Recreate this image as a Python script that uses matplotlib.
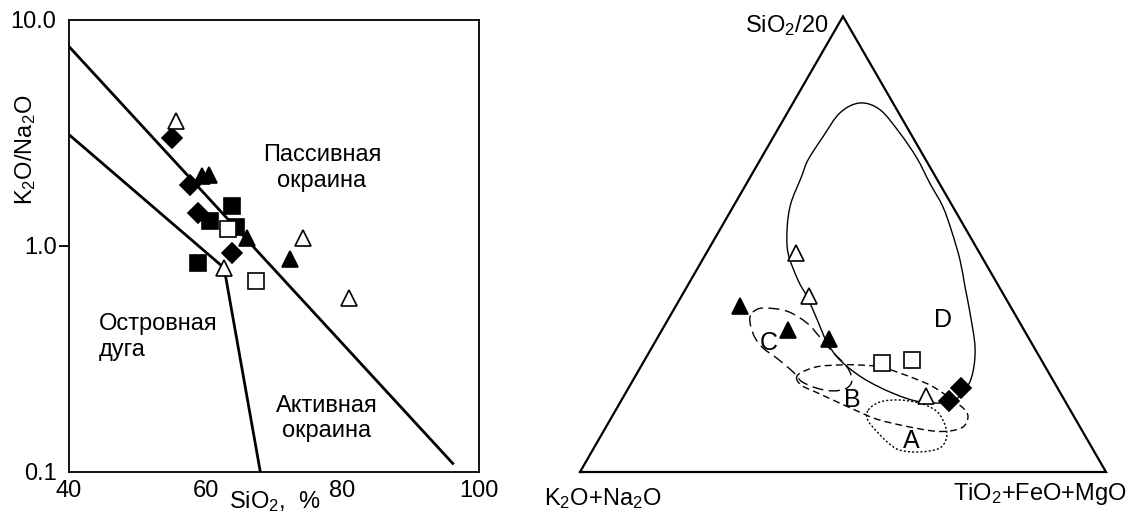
import numpy as np
import matplotlib
matplotlib.use("Agg")
import matplotlib.pyplot as plt
from matplotlib.path import Path
from matplotlib.patches import PathPatch
from matplotlib.ticker import NullLocator

plt.rcParams['font.family'] = ['Liberation Sans', 'DejaVu Sans']
plt.rcParams['mathtext.fontset'] = 'custom'
plt.rcParams['mathtext.rm'] = 'Liberation Sans'
plt.rcParams['mathtext.it'] = 'Liberation Sans:italic'
plt.rcParams['mathtext.bf'] = 'Liberation Sans:bold'

FS = 17

# ---------- SiO2 - K2O/Na2O diagram ----------
# sample groups: SiO2 (%), K2O/Na2O
diam_si = [55.0, 57.7, 58.9, 63.8]
diam_k = [3.01, 1.87, 1.40, 0.935]
sq_si = [60.6, 63.8, 64.5, 58.9]
sq_k = [1.29, 1.51, 1.21, 0.845]
tri_si = [59.4, 60.5, 66.1, 72.3]
tri_k = [2.04, 2.07, 1.08, 0.88]
osq_si = [63.3, 67.4]
osq_k = [1.19, 0.70]
otri_si = [55.7, 62.7, 74.2, 81.0]
otri_k = [3.59, 0.80, 1.09, 0.59]

# field boundaries
upper_si = [40.0, 96.3]
upper_k = [7.63, 0.108]
lower_si = [40.0, 62.7]
lower_k = [3.11, 0.80]
steep_si = [62.7, 68.0]
steep_k = [0.80, 0.10]

# ---------- ternary diagram (wt. %) ----------
# columns: K2O+Na2O, TiO2+FeO+MgO, SiO2/20
t_tri = dict(a=[51.4, 44.9, 38.1], b=[12.2, 24.0, 32.7], c=[36.4, 31.2, 29.2])
t_otri = dict(a=[34.9, 37.1, 25.9], b=[17.0, 24.2, 57.4], c=[48.1, 38.6, 16.7])
t_osq = dict(a=[30.6, 24.6], b=[45.5, 50.8], c=[23.9, 24.6])
t_diam = dict(a=[22.1, 18.4], b=[62.4, 63.2], c=[15.6, 18.4])

# field outlines: TiO2+FeO+MgO and SiO2/20 (K2O+Na2O is the remainder)
field_D_b = [12.7, 17.3, 23.6, 29.6, 34.8, 39.9, 44.5, 49.0, 52.9, 56.7, 61.4,
             63.8, 64.2, 62.7, 57.0, 50.8, 43.5, 37.1, 32.7, 28.4, 24.0, 20.4,
             15.5, 12.5, 10.6, 9.7, 9.1, 9.4, 10.0]
field_D_c = [81.0, 79.5, 74.4, 68.9, 63.4, 58.2, 52.5, 46.5, 40.6, 34.9, 27.4,
             21.7, 18.0, 15.4, 15.4, 17.3, 20.6, 24.6, 28.5, 33.4, 38.4, 42.1,
             48.1, 53.8, 59.0, 64.8, 68.5, 73.5, 78.8]
field_C_b = [15.3, 16.8, 21.7, 26.8, 30.8, 34.9, 39.2, 41.6, 41.5, 39.2, 35.8,
             32.3, 30.7, 28.6, 24.9, 21.2, 18.6, 16.6, 15.4]
field_C_c = [35.1, 36.0, 35.3, 32.7, 29.6, 26.3, 23.1, 20.2, 18.4, 17.8, 18.4,
             19.8, 21.1, 22.6, 25.0, 27.2, 29.4, 31.8, 33.8]
field_B_b = [31.0, 31.0, 33.5, 37.7, 40.9, 45.5, 50.0, 54.2, 57.8, 63.0, 66.4,
             67.8, 67.9, 65.8, 62.6, 56.7, 50.6, 45.5, 40.2, 35.9, 32.8]
field_B_c = [20.4, 21.7, 23.1, 23.5, 23.5, 23.1, 21.7, 20.2, 18.7, 15.8, 13.6,
             11.9, 9.9, 9.0, 9.0, 10.1, 11.6, 13.6, 15.8, 17.6, 18.9]
field_A_b = [48.0, 49.4, 52.9, 57.1, 60.7, 63.3, 65.7, 65.8, 62.4, 58.4, 55.4,
             52.1, 49.0]
field_A_c = [13.6, 15.4, 15.8, 15.1, 13.6, 11.4, 8.1, 5.3, 4.4, 4.8, 6.4,
             8.8, 11.4]


def to_xy(b, c):
    b = np.asarray(b) / 100.0
    c = np.asarray(c) / 100.0
    return b + c / 2.0, c * np.sqrt(3) / 2.0


def closed_curve(b, c):
    # smooth closed outline: Catmull-Rom through the points as cubic Beziers
    x, y = to_xy(b, c)
    p = np.column_stack([x, y])
    n = len(p)
    verts = [p[0]]
    codes = [Path.MOVETO]
    for i in range(n):
        p0, p1, p2, p3 = p[i - 1], p[i], p[(i + 1) % n], p[(i + 2) % n]
        verts += [p1 + (p2 - p0) / 6.0, p2 - (p3 - p1) / 6.0, p2]
        codes += [Path.CURVE4] * 3
    return Path(verts, codes)


fig = plt.figure(figsize=(11.28, 5.15), dpi=100)

# left panel
ax = fig.add_axes([69 / 1128, 43 / 515, 410 / 1128, 452 / 515])
ax.set_yscale('log')
ax.set_xlim(40, 100)
ax.set_ylim(0.1, 10)

for xs, ys in [(upper_si, upper_k), (lower_si, lower_k), (steep_si, steep_k)]:
    ax.plot(xs, ys, color='black', lw=2.0, solid_capstyle='butt', zorder=2)

mk = dict(ls='none', mec='black', mew=1.2, zorder=3, clip_on=False)
ax.plot(diam_si, diam_k, marker='D', ms=10, mfc='black', **mk)
ax.plot(sq_si, sq_k, marker='s', ms=11, mfc='black', **mk)
ax.plot(tri_si, tri_k, marker='^', ms=11, mfc='black', **mk)
ax.plot(osq_si, osq_k, marker='s', ms=11, mfc='white', **mk)
ax.plot(otri_si, otri_k, marker='^', ms=11, mfc='white', **mk)

ax.text(77.0, 2.21, 'Пассивная\nокраина', fontsize=FS, ha='center', va='center',
        multialignment='center')
ax.text(44.3, 0.395, 'Островная\nдуга', fontsize=FS, ha='left', va='center',
        multialignment='left')
ax.text(77.7, 0.172, 'Активная\nокраина', fontsize=FS, ha='center', va='center',
        multialignment='center')

ax.set_xticks([40, 60, 80, 100])
ax.set_xticklabels(['40', '60', '80', '100'])
ax.set_yticks([0.1, 1, 10])
ax.set_yticklabels(['0.1', '1.0', '10.0'])
ax.yaxis.set_minor_locator(NullLocator())
ax.tick_params(axis='x', length=0, pad=6, labelsize=FS)
ax.tick_params(axis='y', length=7, width=1.3, pad=2, labelsize=FS)
yt = ax.yaxis.get_major_ticks()
yt[0].tick1line.set_visible(False)
yt[2].tick1line.set_visible(False)
for s in ax.spines.values():
    s.set_linewidth(1.3)

ax.set_ylabel('K$_2$O/Na$_2$O', fontsize=FS, va='center')
ax.yaxis.set_label_coords(-0.105, 0.712)
ax.set_xlabel('SiO$_2$,  %', fontsize=FS, va='center')
ax.xaxis.set_label_coords(0.502, -0.066)

# right panel: ternary
tx = fig.add_axes([580 / 1128, 43 / 515, 526 / 1128, 455.6 / 515])
tx.set_xlim(0, 1)
tx.set_ylim(0, np.sqrt(3) / 2)
tx.axis('off')

cx, cy = to_xy([0, 100, 0, 0], [0, 0, 100, 0])
tx.plot(cx, cy, color='black', lw=1.6, clip_on=False, solid_joinstyle='miter')

tx.add_patch(PathPatch(closed_curve(field_D_b, field_D_c), fill=False,
                       lw=1.0, ec='black', clip_on=False))
tx.add_patch(PathPatch(closed_curve(field_C_b, field_C_c), fill=False,
                       lw=1.0, ec='black', ls=(0, (8, 4)), clip_on=False))
tx.add_patch(PathPatch(closed_curve(field_B_b, field_B_c), fill=False,
                       lw=1.0, ec='black', ls=(0, (5, 3)), clip_on=False))
tx.add_patch(PathPatch(closed_curve(field_A_b, field_A_c), fill=False,
                       lw=1.0, ec='black', ls=(0, (1.5, 1.5)), clip_on=False))

for grp, m, fc, ms in [(t_tri, '^', 'black', 11), (t_otri, '^', 'white', 11),
                       (t_osq, 's', 'white', 11), (t_diam, 'D', 'black', 10)]:
    px, py = to_xy(grp['b'], grp['c'])
    tx.plot(px, py, marker=m, ms=ms, mfc=fc, **mk)

for lab, b, c in [('D', 52.3, 33.4), ('C', 21.8, 28.3), ('B', 43.8, 15.8), ('A', 59.5, 6.8)]:
    lx, ly = to_xy(b, c)
    tx.text(lx, ly, lab, fontsize=FS + 1, ha='center', va='center')

tx.text(0.4715, 0.848, 'SiO$_2$/20', fontsize=FS, ha='right', va='center')
tx.text(0.0437, -0.0513, 'K$_2$O+Na$_2$O', fontsize=FS, ha='center', va='center',
        clip_on=False)
tx.text(0.8745, -0.0418, 'TiO$_2$+FeO+MgO', fontsize=FS, ha='center', va='center',
        clip_on=False)

fig.savefig('out.png', dpi=100)
